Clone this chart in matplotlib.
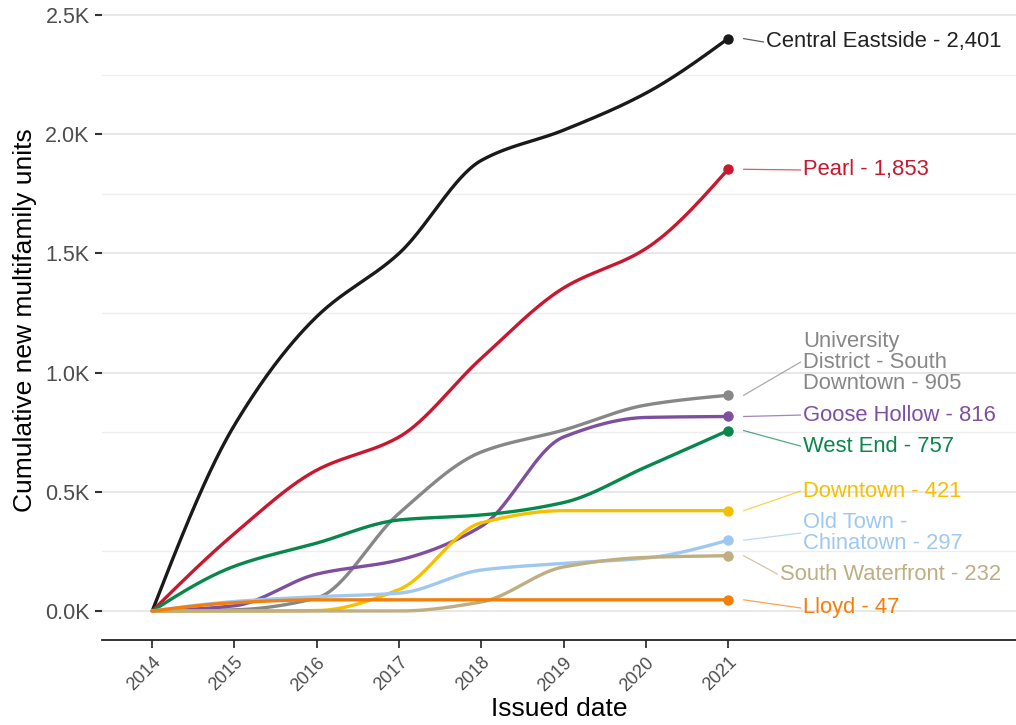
import numpy as np
import matplotlib
matplotlib.use("Agg")
import matplotlib.pyplot as plt
from matplotlib.ticker import FuncFormatter, MultipleLocator

years = [2014, 2015, 2016, 2017, 2018, 2019, 2020, 2021]

central_eastside = [0, 780, 1235, 1500, 1890, 2017, 2172, 2401]
pearl = [0, 325, 591, 730, 1060, 1355, 1520, 1853]
university_sd = [0, 5, 55, 410, 667, 759, 864, 905]
goose_hollow = [0, 22, 155, 214, 355, 730, 812, 816]
west_end = [0, 188, 285, 382, 403, 455, 604, 757]
downtown = [0, 0, 2, 90, 370, 421, 421, 421]
old_town = [0, 40, 60, 75, 172, 200, 222, 297]
south_waterfront = [0, 0, 0, 0, 38, 185, 225, 232]
lloyd = [0, 35, 47, 47, 47, 47, 47, 47]

series = [
    ("Central Eastside - 2,401", central_eastside, "#1a1a1a", "#222222"),
    ("Pearl - 1,853", pearl, "#c8172e", "#c8172e"),
    ("University\nDistrict - South\nDowntown - 905", university_sd, "#878787", "#878787"),
    ("Goose Hollow - 816", goose_hollow, "#7f4f9f", "#7f4f9f"),
    ("West End - 757", west_end, "#07874c", "#07874c"),
    ("Downtown - 421", downtown, "#f6bf00", "#f6bf00"),
    ("Old Town -\nChinatown - 297", old_town, "#9fc8f1", "#9fc8f1"),
    ("South Waterfront - 232", south_waterfront, "#bfae82", "#bfae82"),
    ("Lloyd - 47", lloyd, "#f47e0a", "#f47e0a"),
]

# label anchor positions (x, y in data units)
label_pos = [
    (2021.46, 2387), (2021.91, 1850), (2021.91, 1044), (2021.91, 822),
    (2021.91, 692), (2021.91, 503), (2021.91, 327), (2021.63, 155),
    (2021.91, 13),
]


def pchip(x, y, xs):
    """Monotone cubic curve through the yearly points."""
    x = np.asarray(x, float)
    y = np.asarray(y, float)
    h = np.diff(x)
    delta = np.diff(y) / h
    n = len(x)
    d = np.zeros(n)
    for k in range(1, n - 1):
        if delta[k - 1] * delta[k] > 0:
            w1 = 2 * h[k] + h[k - 1]
            w2 = h[k] + 2 * h[k - 1]
            d[k] = (w1 + w2) / (w1 / delta[k - 1] + w2 / delta[k])
    d[0] = delta[0] * 1.5 - d[1] * 0.5
    if d[0] * delta[0] < 0:
        d[0] = 0
    d[-1] = delta[-1] * 1.5 - d[-2] * 0.5
    if d[-1] * delta[-1] < 0:
        d[-1] = 0
    idx = np.clip(np.searchsorted(x, xs) - 1, 0, n - 2)
    t = (xs - x[idx]) / h[idx]
    h00 = 2 * t**3 - 3 * t**2 + 1
    h10 = t**3 - 2 * t**2 + t
    h01 = -2 * t**3 + 3 * t**2
    h11 = t**3 - t**2
    return (h00 * y[idx] + h10 * h[idx] * d[idx]
            + h01 * y[idx + 1] + h11 * h[idx] * d[idx + 1])


plt.rcParams["font.family"] = ["Liberation Sans", "DejaVu Sans"]

fig = plt.figure(figsize=(10.16, 7.25), dpi=100)
ax = fig.add_axes([0.1004, 0.1172, 0.8996, 0.8828])

xs = np.linspace(2014, 2021, 400)
for (name, vals, col, tcol), (lx, ly) in zip(series, label_pos):
    ax.plot(xs, pchip(years, vals, xs), color=col, lw=2.4,
            solid_capstyle="round", zorder=3)
    ax.plot(years[-1], vals[-1], "o", color=col, ms=6.5, zorder=4)
    ax.plot([2021.19, lx - 0.03], [vals[-1], ly], color=col, lw=0.9,
            alpha=0.7, zorder=2)
    ax.text(lx, ly, name, color=tcol, fontsize=15.8, va="center",
            ha="left", linespacing=1.0)

ax.set_xlim(2013.39, 2024.5)
ax.set_ylim(-121.6, 2563)
ax.set_xticks(years)
ax.set_xticklabels([str(y) for y in years], rotation=45, ha="right",
                   rotation_mode="anchor", fontsize=13, color="#4d4d4d")
ax.yaxis.set_major_locator(MultipleLocator(500))
ax.yaxis.set_minor_locator(MultipleLocator(250))
ax.yaxis.set_major_formatter(FuncFormatter(lambda v, p: f"{v/1000:.1f}K"))
ax.tick_params(axis="y", which="major", length=5, width=1.5,
               color="#333333", labelsize=15.5, labelcolor="#4d4d4d", pad=4)
ax.tick_params(axis="y", which="minor", length=0)
ax.tick_params(axis="x", length=6, width=1.2, color="#222222", pad=4)

ax.grid(axis="y", which="major", color="#e3e3e3", lw=1.2)
ax.grid(axis="y", which="minor", color="#eeeeee", lw=1.0)
ax.set_axisbelow(True)

for s in ["top", "right", "left"]:
    ax.spines[s].set_visible(False)
ax.spines["bottom"].set_color("#222222")
ax.spines["bottom"].set_linewidth(1.3)

ax.set_ylabel("Cumulative new multifamily units", fontsize=19, labelpad=6)
ax.set_xlabel("Issued date", fontsize=19, labelpad=2)

fig.savefig("out.png", dpi=100)
